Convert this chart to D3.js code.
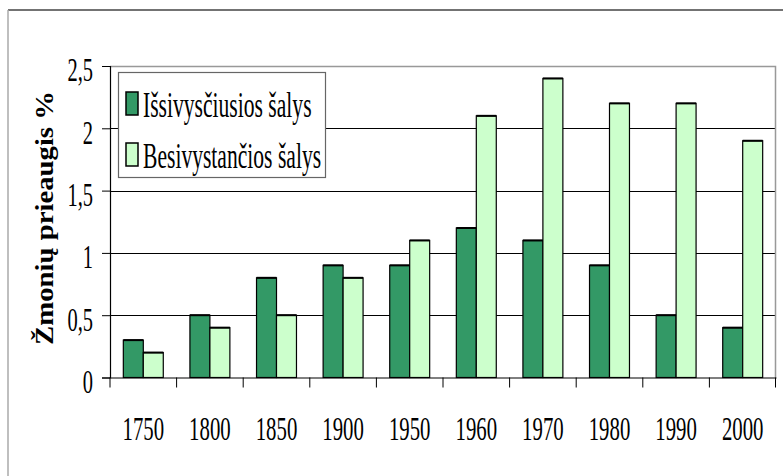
<!DOCTYPE html>
<html>
<head>
<meta charset="utf-8">
<script src="https://cdn.jsdelivr.net/npm/d3@7"></script>
<style>
  body { margin: 0; background: #fff; }
  text { font-family: "Liberation Serif", "Times New Roman", serif; fill: #000; }
</style>
</head>
<body>
<script>
(function(d3) {

  // Years on the x axis
  var years = ['1750', '1800', '1850', '1900', '1950', '1960', '1970', '1980', '1990', '2000'];

  // Population growth, %
  var developed = [0.3, 0.5, 0.8, 0.9, 0.9, 1.2, 1.1, 0.9, 0.5, 0.4];
  var developing = [0.2, 0.4, 0.5, 0.8, 1.1, 2.1, 2.4, 2.2, 2.2, 1.9];

  var seriesNames = ['Išsivysčiusios šalys', 'Besivystančios šalys'];
  var yTicks = [0, 0.5, 1, 1.5, 2, 2.5];
  var yTickLabels = ['0', '0,5', '1', '1,5', '2', '2,5'];

  var width = 783, height = 476;
  var colors = ['#339966', '#CCFFCC'];

  var plot = { left: 110, right: 776, top: 66, bottom: 377.5 };

  var svg = d3.select('body').append('svg')
    .attr('width', width)
    .attr('height', height);

  // outer frame (runs off the bottom/right edge)
  svg.append('line').attr('x1', 8).attr('y1', 10).attr('x2', width).attr('y2', 10)
    .attr('stroke', '#444').attr('stroke-width', 1.5);
  svg.append('line').attr('x1', 8).attr('y1', 10).attr('x2', 8).attr('y2', height)
    .attr('stroke', '#aaa').attr('stroke-width', 1.5);

  var x = d3.scaleBand().domain(years).range([plot.left, plot.right]);
  var xSeries = d3.scaleBand().domain([0, 1]).range([0, x.bandwidth()]).paddingOuter(0.667);
  var y = d3.scaleLinear().domain([0, 2.5]).range([plot.bottom, plot.top]);

  // horizontal gridlines
  svg.append('g').selectAll('line')
    .data(yTicks.filter(function(t) { return t > 0 && t < 2.5; }))
    .join('line')
    .attr('x1', plot.left).attr('x2', plot.right)
    .attr('y1', function(d) { return Math.round(y(d)) + 0.5; })
    .attr('y2', function(d) { return Math.round(y(d)) + 0.5; })
    .attr('stroke', '#000');

  // plot area border (top + right, grey)
  svg.append('path')
    .attr('d', 'M' + plot.left + ',' + (plot.top + 0.5) + 'H' + (plot.right - 0.5) + 'V' + plot.bottom)
    .attr('fill', 'none').attr('stroke', '#999').attr('stroke-width', 1.5);

  // bars
  var rows = years.map(function(yr, i) { return { year: yr, values: [developed[i], developing[i]] }; });
  var groups = svg.append('g').selectAll('g')
    .data(rows)
    .join('g')
    .attr('transform', function(d) { return 'translate(' + x(d.year) + ',0)'; });

  groups.selectAll('rect')
    .data(function(d) { return d.values.map(function(v, k) { return { v: v, k: k }; }); })
    .join('rect')
    .attr('x', function(d) { return xSeries(d.k); })
    .attr('y', function(d) { return y(d.v); })
    .attr('width', xSeries.bandwidth())
    .attr('height', function(d) { return y(0) - y(d.v); })
    .attr('fill', function(d) { return colors[d.k]; })
    .attr('stroke', '#000')
    .attr('stroke-width', 1.2);

  // heavier top edge on each bar
  groups.selectAll('line.top')
    .data(function(d) { return d.values.map(function(v, k) { return { v: v, k: k }; }); })
    .join('line')
    .attr('class', 'top')
    .attr('x1', function(d) { return xSeries(d.k); })
    .attr('x2', function(d) { return xSeries(d.k) + xSeries.bandwidth(); })
    .attr('y1', function(d) { return y(d.v); })
    .attr('y2', function(d) { return y(d.v); })
    .attr('stroke', '#000').attr('stroke-width', 2);

  // y axis
  var yAxis = svg.append('g')
    .attr('transform', 'translate(' + plot.left + ',0)')
    .call(d3.axisLeft(y).tickValues(yTicks).tickSize(8).tickFormat(function(d, i) { return yTickLabels[i]; }));
  yAxis.select('.domain').attr('stroke', '#000').attr('stroke-width', 1.2);
  yAxis.selectAll('.tick line').attr('stroke', '#000');
  yAxis.selectAll('.tick text')
    .attr('x', 0).attr('dy', null)
    .attr('font-size', 33)
    .attr('dominant-baseline', 'central')
    .attr('transform', 'translate(-17,4) scale(0.62,1)');

  // x axis
  var xAxis = svg.append('g')
    .attr('transform', 'translate(0,' + plot.bottom + ')')
    .call(d3.axisBottom(x).tickSize(0).tickPadding(0));
  xAxis.select('.domain').attr('stroke', '#000').attr('stroke-width', 1.2);
  xAxis.selectAll('.tick text')
    .attr('y', 0).attr('dy', null)
    .attr('font-size', 33)
    .attr('transform', 'translate(0,62) scale(0.63,1)');

  // tick marks on category boundaries
  svg.append('g').selectAll('line')
    .data(years.concat(['end']))
    .join('line')
    .attr('x1', function(d) { return d === 'end' ? plot.right - 0.5 : x(d); })
    .attr('x2', function(d) { return d === 'end' ? plot.right - 0.5 : x(d); })
    .attr('y1', plot.bottom).attr('y2', plot.bottom + 10)
    .attr('stroke', '#000');

  // y axis title
  svg.append('text')
    .attr('transform', 'translate(53,218) rotate(-90) scale(1.15,1)')
    .attr('text-anchor', 'middle')
    .attr('font-size', 25)
    .attr('font-weight', 'bold')
    .text('Žmonių prieaugis %');

  // legend
  var legend = svg.append('g').attr('transform', 'translate(118,72)');
  legend.append('rect')
    .attr('x', 0.5).attr('y', 0.5).attr('width', 207).attr('height', 105)
    .attr('fill', '#fff').attr('stroke', '#666').attr('stroke-width', 1.2);

  var items = legend.selectAll('g.item')
    .data(seriesNames)
    .join('g')
    .attr('class', 'item')
    .attr('transform', function(d, i) { return 'translate(0,' + (i * 51) + ')'; });
  items.append('rect')
    .attr('x', 8).attr('y', 20).attr('width', 12).attr('height', 23)
    .attr('fill', function(d, i) { return colors[i]; })
    .attr('stroke', '#000').attr('stroke-width', 1.5);
  items.append('text')
    .attr('transform', 'translate(25,45) scale(0.6,1)')
    .attr('font-size', 36)
    .text(function(d) { return d; });

})(d3);
</script>
</body>
</html>
